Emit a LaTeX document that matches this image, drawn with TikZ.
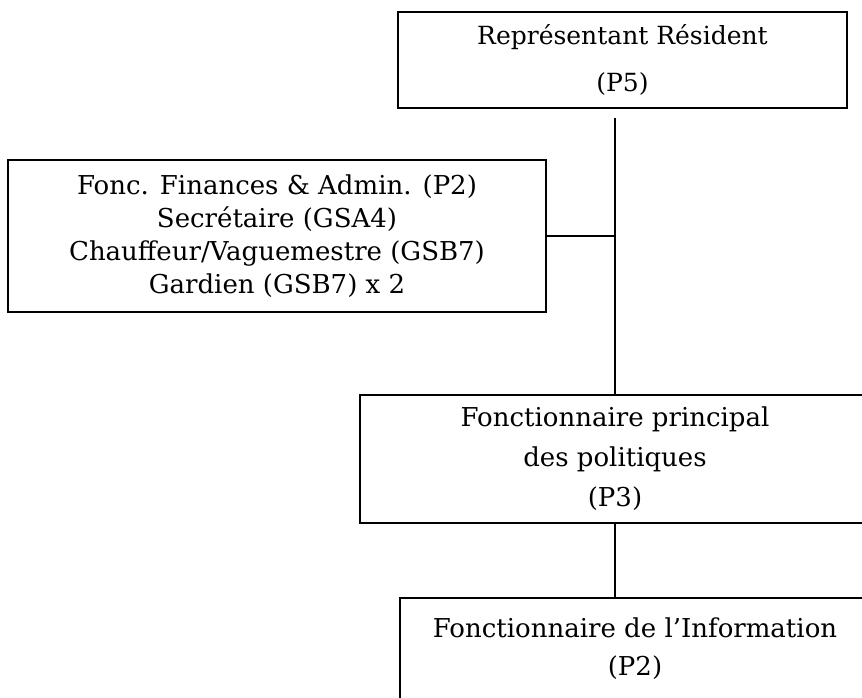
\documentclass[tikz,border=0pt]{standalone}
\usepackage{fontspec}
\setmainfont{DejaVu Serif}
\usetikzlibrary{positioning,calc}
\tikzset{
  post/.style={draw=black,line width=1.5pt,align=center,inner sep=0pt,font=\fontsize{25}{47}\selectfont},
  staff/.style={post,font=\fontsize{26}{33}\selectfont},
  link/.style={line width=1.6pt,draw=black},
}

\begin{document}
\begin{tikzpicture}[x=1pt,y=-1pt]
  \useasboundingbox (0,0) rectangle (862,697);
  \clip (0,0) rectangle (862,697);

  \node[post,minimum width=449pt,minimum height=96pt] (rep) at (622.5,60) {Représentant Résident\\(P5)};
  \node[staff,minimum width=538pt,minimum height=152pt] (adm) at (277,236) {Fonc. Finances \& Admin. (P2)\\Secrétaire (GSA4)\\Chauffeur/Vaguemestre (GSB7)\\Gardien (GSB7) x 2};
  \node[post,font=\fontsize{26}{40}\selectfont,minimum width=510pt,minimum height=128pt] (pol) at (615,459) {Fonctionnaire principal\\des politiques\\(P3)};
  \node[post,font=\fontsize{26}{38}\selectfont,minimum width=470pt,minimum height=102pt] (info) at (635,649) {Fonctionnaire de l'Information\\(P2)};

  \coordinate (trunk) at (615,118);
  \draw[link] (trunk) -- (pol.north);
  \draw[link] (adm.east) -- (adm.east -| trunk);
  \draw[link] (pol.south) -- (pol.south |- info.north);
\end{tikzpicture}
\end{document}
